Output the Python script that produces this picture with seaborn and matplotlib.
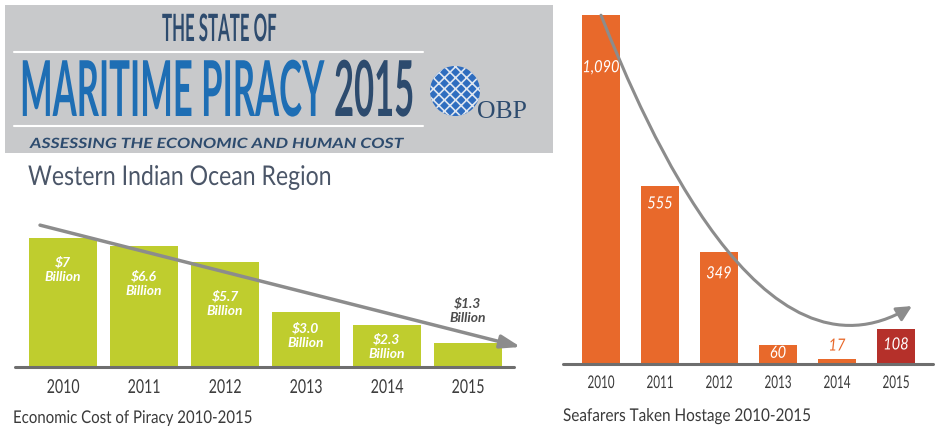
"""
plot.py

Two bar panels from the OBP "State of Maritime Piracy 2015" summary:
economic cost and seafarers taken hostage in the Western Indian Ocean.
"""
import matplotlib
matplotlib.use("Agg")

import seaborn as sns
from matplotlib import pyplot as plt
from matplotlib import patheffects as pe
from matplotlib.patches import Rectangle, Circle, FancyArrowPatch
from matplotlib.path import Path
from matplotlib.transforms import Affine2D


YEARS = ["2010", "2011", "2012", "2013", "2014", "2015"]
COST_BN = [7.0, 6.6, 5.7, 3.0, 2.3, 1.3]
COST_LABELS = ["$7\nBillion", "$6.6\nBillion", "$5.7\nBillion",
               "$3.0\nBillion", "$2.3\nBillion", "$1.3\nBillion"]
HOSTAGES = [1090, 555, 349, 60, 17, 108]
HOSTAGE_LABELS = ["1,090", "555", "349", "60", "17", "108"]

GREEN = "#bfcd2e"
ORANGE = "#e8692b"
RED = "#b5302a"
NAVY = "#2d4b6e"
BLUE = "#1e6eb4"
ARROW = "#8c8c8c"
AXIS = "#6e6e6e"
TEXT = "#3a3a3a"

# label placement: pixels below the bar top (negative = above)
COST_DROP = [31, 38, 41, 24, 22, -33]
COST_COLORS = ["white"] * 5 + ["#4d4d4d"]
HOST_DROP = [53, 18, 22, 9, -12, 16]
HOST_COLORS = ["white"] * 4 + [ORANGE, "white"]

W, H = 935, 429


class Tall(pe.AbstractPathEffect):
    """Stretch text vertically about its baseline (fakes a condensed face)."""

    def __init__(self, sy):
        super().__init__()
        self.sy = sy

    def draw_path(self, renderer, gc, tpath, affine, rgbFace=None):
        x0, y0 = affine.transform((0, 0))
        stretch = Affine2D().translate(-x0, -y0).scale(1, self.sy).translate(x0, y0)
        renderer.draw_path(gc, tpath, affine + stretch, rgbFace)


def px_axes(fig, left, top, right, bottom):
    """Add axes from pixel edges (origin top-left)."""
    return fig.add_axes([left / W, 1 - bottom / H,
                         (right - left) / W, (bottom - top) / H])


def style_axes(ax, labelsize, pad, sy):
    sns.despine(ax=ax, left=True, bottom=True)
    ax.set_yticks([])
    ax.set_xlabel("")
    ax.set_ylabel("")
    ax.patch.set_alpha(0)
    ax.axhline(0, color=AXIS, lw=2.2, zorder=3, clip_on=False)
    ax.tick_params(axis="x", length=0, pad=pad, labelsize=labelsize,
                   labelcolor=TEXT)
    for lab in ax.get_xticklabels():
        lab.set_va("baseline")
        lab.set_path_effects([Tall(sy)])


def header(bg):
    bg.add_patch(Rectangle((5, 5), 548, 148, color="#c8c9cb", lw=0))
    for y in (52, 126):
        bg.plot([14, 423], [y, y], color="white", lw=1.5)
    bg.text(162, 41, "THE STATE OF", color=NAVY, fontsize=12.1,
            weight="bold", path_effects=[Tall(2.24)])
    bg.text(20, 116, "MARITIME PIRACY", color=BLUE, fontsize=24.9,
            weight="bold", path_effects=[Tall(2.23)])
    bg.text(334, 116, "2015", color=NAVY, fontsize=24.9,
            weight="bold", path_effects=[Tall(2.23)])
    bg.text(30, 148, "ASSESSING THE ECONOMIC AND HUMAN COST", color=NAVY,
            fontsize=12.7, weight="bold", style="italic",
            path_effects=[Tall(0.8)])
    bg.add_patch(Circle((455, 91), 25, fc="#2f6dbf", ec="#dfe6f0",
                        hatch="xxx", lw=0))
    bg.text(477, 118, "OBP", color=NAVY, fontsize=18.5,
            family=["Liberation Serif", "DejaVu Serif"])
    bg.text(28, 185, "Western Indian Ocean Region", color="#4b5668",
            fontsize=16.6, path_effects=[Tall(1.18)])


def main():
    sns.set_style("white")
    plt.rcParams["font.family"] = ["Lato", "DejaVu Sans"]
    plt.rcParams["hatch.linewidth"] = 1.2

    fig = plt.figure(figsize=(W / 100, H / 100), dpi=100)
    bg = fig.add_axes([0, 0, 1, 1])
    bg.set_xlim(0, W)
    bg.set_ylim(H, 0)
    bg.axis("off")
    header(bg)

    # economic cost
    ax1 = px_axes(fig, 15, 220, 514, 367)
    sns.barplot(x=YEARS, y=COST_BN, color=GREEN, saturation=1, width=0.84,
                linewidth=0, ax=ax1)
    for i, (v, lab) in enumerate(zip(COST_BN, COST_LABELS)):
        ax1.annotate(lab, xy=(i, v), xytext=(0, -COST_DROP[i]),
                     textcoords="offset pixels", ha="center", va="center",
                     color=COST_COLORS[i], fontsize=10, weight="bold",
                     style="italic", linespacing=1.25, zorder=5)
    ax1.annotate("", xy=(5.65, 1.09), xytext=(-0.284, 7.72),
                 arrowprops=dict(arrowstyle="-|>,head_length=1.2,head_width=0.4",
                                 color=ARROW, lw=2.5, shrinkA=0, shrinkB=0),
                 annotation_clip=False, zorder=6)
    ax1.set_xlim(-0.593, 5.568)
    ax1.set_ylim(0, 8)
    style_axes(ax1, 10.2, 18.7, 1.35)
    fig.text(13 / W, 1 - 423 / H, "Economic Cost of Piracy 2010-2015",
             color=TEXT, fontsize=10.8, path_effects=[Tall(1.17)])

    # hostages
    ax2 = px_axes(fig, 563, 4, 933, 364)
    palette = dict(zip(YEARS, [ORANGE] * 5 + [RED]))
    sns.barplot(x=YEARS, y=HOSTAGES, hue=YEARS, palette=palette,
                legend=False, saturation=1, width=0.66, linewidth=0, ax=ax2)
    for i, (v, lab) in enumerate(zip(HOSTAGES, HOSTAGE_LABELS)):
        ax2.annotate(lab, xy=(i, v), xytext=(0, -HOST_DROP[i]),
                     textcoords="offset pixels", ha="center", va="center",
                     color=HOST_COLORS[i], fontsize=10.5, style="italic",
                     path_effects=[Tall(1.15)], zorder=5)
    trend = Path([(0.0, HOSTAGES[0]), (0.78, 731), (2.73, -100), (5.27, 181)],
                 [Path.MOVETO, Path.CURVE4, Path.CURVE4, Path.CURVE4])
    ax2.add_patch(FancyArrowPatch(path=trend,
                                  arrowstyle="-|>,head_length=0.6,head_width=0.3",
                                  mutation_scale=15, color=ARROW, lw=2.2,
                                  clip_on=False, zorder=6))
    ax2.set_xlim(-0.644, 5.627)
    ax2.set_ylim(0, 1125)
    style_axes(ax2, 8.4, 17.3, 1.5)
    fig.text(563 / W, 1 - 421 / H, "Seafarers Taken Hostage 2010-2015",
             color=TEXT, fontsize=11, path_effects=[Tall(1.15)])

    fig.savefig("out.png", dpi=100)


if __name__ == "__main__":
    main()
